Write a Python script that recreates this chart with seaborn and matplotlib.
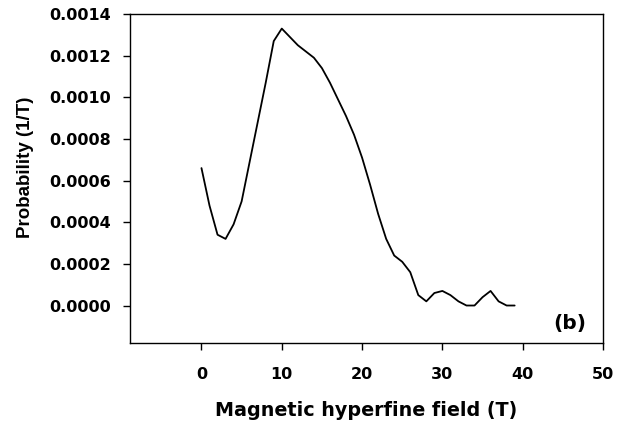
import matplotlib
matplotlib.use("Agg")
import matplotlib.pyplot as plt
import seaborn as sns
import pandas as pd

field = list(range(0, 40))
probability = [0.00066, 0.00048, 0.00034, 0.00032, 0.00039, 0.00050, 0.00069, 0.00088,
               0.00107, 0.00127, 0.00133, 0.00129, 0.00125, 0.00122, 0.00119, 0.00114,
               0.00107, 0.00099, 0.00091, 0.00082, 0.00071, 0.00058, 0.00044, 0.00032,
               0.00024, 0.00021, 0.00016, 0.00005, 0.00002, 0.00006, 0.00007, 0.00005,
               0.00002, 0.0, 0.0, 0.00004, 0.00007, 0.00002, 0.0, 0.0]
x_ticks = [0, 10, 20, 30, 40, 50]
y_ticks = [0.0, 0.0002, 0.0004, 0.0006, 0.0008, 0.0010, 0.0012, 0.0014]
y_tick_labels = ["0.0000", "0.0002", "0.0004", "0.0006", "0.0008", "0.0010", "0.0012", "0.0014"]

sns.set_style("ticks")
plt.rcParams['font.family'] = ['DejaVu Sans']
plt.rcParams['text.color'] = 'black'
plt.rcParams['xtick.color'] = 'black'
plt.rcParams['ytick.color'] = 'black'
plt.rcParams['axes.labelcolor'] = 'black'

df = pd.DataFrame({"field": field, "prob": probability})

fig = plt.figure(figsize=(6.31, 4.24), dpi=100)
ax = fig.add_axes([130/631, 1-343/424, (603-130)/631, (343-14)/424])
sns.lineplot(data=df, x="field", y="prob", ax=ax, color="black", linewidth=1.3)

ax.set_xlim(-8.9, 50)
ax.set_ylim(-0.00018, 0.0014)
ax.set_xticks(x_ticks)
ax.set_xticklabels([str(t) for t in x_ticks], fontweight="bold", fontsize=11.5, color="black")
ax.set_yticks(y_ticks)
ax.set_yticklabels(y_tick_labels, fontweight="bold", fontsize=11.5, color="black")
for s in ax.spines.values():
    s.set_visible(True)
    s.set_color("black")
    s.set_linewidth(1.0)
ax.tick_params(direction="out", length=5, width=1, color="black")
ax.tick_params(axis="x", pad=12)
ax.tick_params(axis="y", pad=8.5)
ax.set_xlabel("")
ax.set_ylabel("")
fig.text(366.5/631, 1-411/424, "Magnetic hyperfine field (T)", ha="center", va="center",
         fontweight="bold", fontsize=13.8, color="black")
fig.text(26/631, 1-167.5/424, "Probability (1/T)", ha="center", va="center", rotation=90,
         fontweight="bold", fontsize=13.5, family=["Liberation Sans", "DejaVu Sans"], color="black")
ax.text(0.9655, 0.058, "(b)", transform=ax.transAxes, ha="right", va="center",
        fontweight="bold", fontsize=14.5, color="black")

fig.savefig("out.png", dpi=100)
